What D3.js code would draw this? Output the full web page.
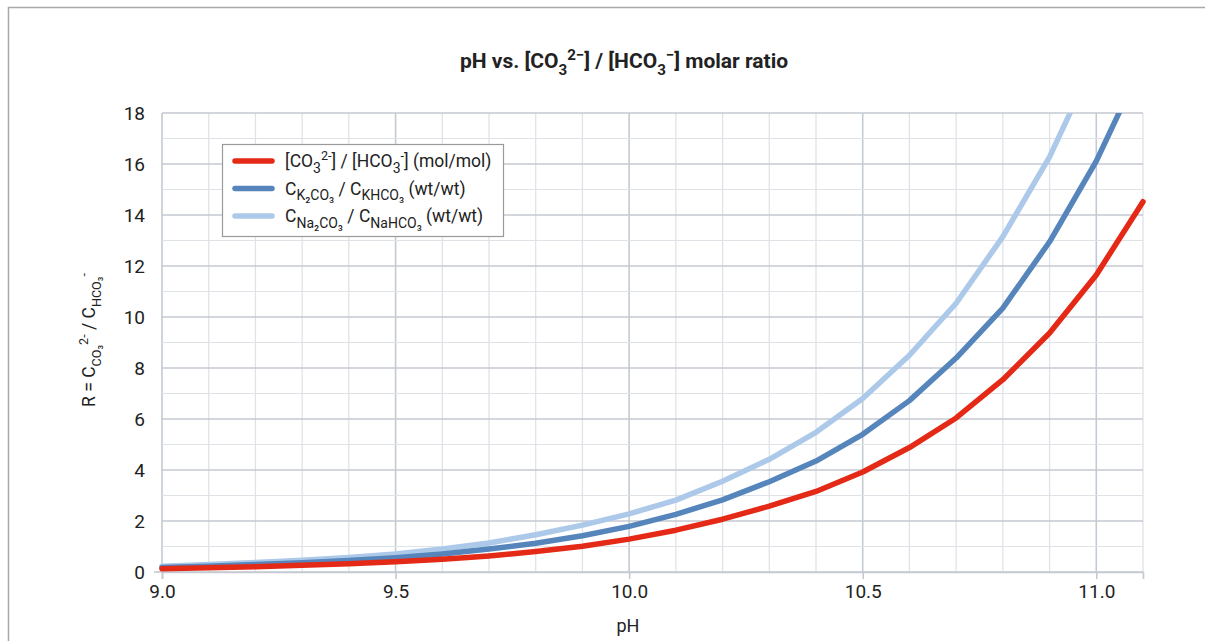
<!DOCTYPE html>
<html>
<head>
<meta charset="utf-8">
<script src="https://cdn.jsdelivr.net/npm/d3@7"></script>
<style>
  body { margin: 0; background: #fff; }
  svg text { font-family: Roboto, "Noto Sans", sans-serif; fill: #222; }
</style>
</head>
<body>
<div id="chart"></div>
<script>
// data
const phValues = [9.0, 9.1, 9.2, 9.3, 9.4, 9.5, 9.6, 9.7, 9.8, 9.9, 10.0,
  10.1, 10.2, 10.3, 10.4, 10.5, 10.6, 10.7, 10.8, 10.9, 11.0, 11.1];
const molRatio = [0.13, 0.17, 0.21, 0.26, 0.32, 0.40, 0.50, 0.63, 0.80, 1.01, 1.29,
  1.64, 2.07, 2.58, 3.16, 3.92, 4.88, 6.04, 7.54, 9.37, 11.65, 14.52];
const kRatio = [0.18, 0.23, 0.29, 0.36, 0.45, 0.56, 0.71, 0.90, 1.13, 1.42, 1.79,
  2.26, 2.83, 3.54, 4.35, 5.40, 6.72, 8.39, 10.35, 12.95, 16.11, 20.0];
const naRatio = [0.23, 0.29, 0.37, 0.46, 0.57, 0.71, 0.90, 1.14, 1.46, 1.84, 2.28,
  2.82, 3.56, 4.42, 5.48, 6.80, 8.50, 10.54, 13.15, 16.28, 20.2];
const xTicks = [9.0, 9.5, 10.0, 10.5, 11.0];
const yTicks = [0, 2, 4, 6, 8, 10, 12, 14, 16, 18];

const W = 1205, H = 641;
const margin = { top: 113, right: 62, bottom: 69, left: 162 };
const width = W - margin.left - margin.right,
  height = H - margin.top - margin.bottom;

const svg = d3.select("#chart").append("svg")
  .attr("width", W).attr("height", H);

// outer frame
svg.append("path").attr("d", "M8.5,641 V7.5 H1205")
  .attr("fill", "none").attr("stroke", "#a9a9a9").attr("stroke-width", 1.5);

const x = d3.scaleLinear().domain([9.0, 11.1]).range([0, width]);
const y = d3.scaleLinear().domain([0, 18]).range([height, 0]);

const g = svg.append("g").attr("transform", `translate(${margin.left},${margin.top})`);

// helper: text with sub / sup parts
function richText(sel, parts, size, subScale = 0.72) {
  let shift = 0;
  parts.forEach(p => {
    let target = 0, fs = size;
    if (p.s === "sub") { target = size * 0.32; fs = size * subScale; }
    if (p.s === "sup") { target = -size * 0.38; fs = size * 0.72; }
    sel.append("tspan").attr("dy", target - shift).attr("font-size", fs).text(p.t);
    shift = target;
  });
}

// grid
const minorX = d3.range(0, 22).map(i => 9.0 + i * 0.1);
g.append("g").selectAll("line").data(minorX).join("line")
  .attr("x1", d => x(d)).attr("x2", d => x(d))
  .attr("y1", 0).attr("y2", height)
  .attr("stroke", (d, i) => i % 5 === 0 ? "#c4cad2" : "#dfe3e8")
  .attr("stroke-width", (d, i) => i % 5 === 0 ? 1.6 : 1.3);
g.append("g").selectAll("line").data(d3.range(0, 19)).join("line")
  .attr("x1", 0).attr("x2", width)
  .attr("y1", d => y(d)).attr("y2", d => y(d))
  .attr("stroke", d => d % 2 === 0 ? "#c4cad2" : "#dfe3e8")
  .attr("stroke-width", d => d % 2 === 0 ? 1.4 : 1.2);

// axes
const xAxis = g.append("g").attr("transform", `translate(0,${height})`)
  .call(d3.axisBottom(x).tickValues(xTicks).tickFormat(d3.format(".1f")).tickSize(7).tickPadding(6));
xAxis.select(".domain").attr("stroke", "#c4cad2").attr("stroke-width", 1.6);
xAxis.selectAll(".tick line").attr("stroke", "#c4cad2").attr("stroke-width", 1.6);
xAxis.selectAll("text").attr("font-size", 19).attr("fill", "#222");

const yAxis = g.append("g")
  .call(d3.axisLeft(y).tickValues(yTicks).tickSize(0).tickPadding(17));
yAxis.select(".domain").remove();
yAxis.selectAll("text").attr("font-size", 19).attr("fill", "#222");
g.append("line").attr("x1", -8).attr("x2", 0).attr("y1", y(0)).attr("y2", y(0))
  .attr("stroke", "#c4cad2").attr("stroke-width", 1.6);

// lines
svg.append("clipPath").attr("id", "plotClip").append("rect")
  .attr("x", -10).attr("y", 0).attr("width", width + 20).attr("height", height + 10);

const series = [
  { values: molRatio, color: "#e42a16" },
  { values: kRatio, color: "#5585bb" },
  { values: naRatio, color: "#adc9ea" }
];
const line = d3.line().x(d => x(d[0])).y(d => y(d[1]));
const lines = g.append("g").attr("clip-path", "url(#plotClip)");
series.slice().reverse().forEach(s => {
  lines.append("path")
    .datum(s.values.map((v, i) => [phValues[i], v]))
    .attr("fill", "none").attr("stroke", s.color)
    .attr("stroke-width", 5.5).attr("stroke-linejoin", "round").attr("stroke-linecap", "round")
    .attr("d", line);
});

// title
const title = svg.append("text").attr("x", 624).attr("y", 68)
  .attr("text-anchor", "middle").attr("font-size", 21).attr("font-weight", "bold");
richText(title, [{ t: "pH vs. [CO" }, { t: "3", s: "sub" }, { t: "2\u2212", s: "sup" },
  { t: "] / [HCO" }, { t: "3", s: "sub" }, { t: "\u2212", s: "sup" }, { t: "] molar ratio" }], 21);

// axis titles
svg.append("text").attr("x", 628).attr("y", 632).attr("text-anchor", "middle")
  .attr("font-size", 18).text("pH");
const yt = svg.append("text").attr("transform", "translate(95,340) rotate(-90)")
  .attr("text-anchor", "middle").attr("font-size", 17.5);
richText(yt, [{ t: "R = C" }, { t: "CO\u2083", s: "sub" }, { t: "2-", s: "sup" },
  { t: " / C" }, { t: "HCO\u2083", s: "sub" }, { t: "-", s: "sup" }], 17.5);

// legend
const legend = svg.append("g").attr("transform", "translate(222,144)");
legend.append("rect").attr("x", 0.5).attr("y", 0.5).attr("width", 281).attr("height", 92)
  .attr("fill", "#fff").attr("stroke", "#9a9a9a").attr("stroke-width", 1.2);
const labels = [
  [{ t: "[CO" }, { t: "3", s: "sub" }, { t: "2-", s: "sup" }, { t: "] / [HCO" }, { t: "3", s: "sub" }, { t: "-", s: "sup" }, { t: "] (mol/mol)" }],
  [{ t: "C" }, { t: "K\u2082CO\u2083", s: "sub" }, { t: " / C" }, { t: "KHCO\u2083", s: "sub" }, { t: " (wt/wt)" }],
  [{ t: "C" }, { t: "Na\u2082CO\u2083", s: "sub" }, { t: " / C" }, { t: "NaHCO\u2083", s: "sub" }, { t: " (wt/wt)" }]
];
series.forEach((s, i) => {
  const cy = 17 + i * 27.5;
  legend.append("line").attr("x1", 13).attr("x2", 50).attr("y1", cy).attr("y2", cy)
    .attr("stroke", s.color).attr("stroke-width", 5.5).attr("stroke-linecap", "round");
  const t = legend.append("text").attr("x", 63).attr("y", cy + 6).attr("font-size", 17.5);
  richText(t, labels[i], 17.5, 0.8);
});
</script>
</body>
</html>
